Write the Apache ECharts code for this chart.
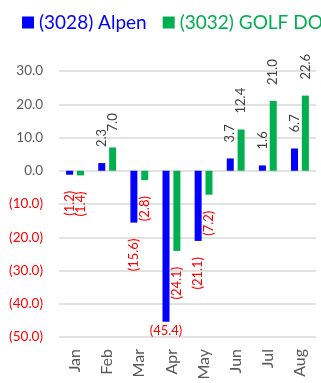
<!DOCTYPE html>
<html>
<head>
<meta charset="utf-8">
<script src="https://cdn.jsdelivr.net/npm/echarts@6/dist/echarts.min.js"></script>
<style>
  html, body { margin: 0; padding: 0; background: #fff; }
  #chart { width: 321px; height: 383px; }
</style>
</head>
<body>
<div id="chart"></div>
<script>
// Monthly change (%) by company
const months = ['Jan', 'Feb', 'Mar', 'Apr', 'May', 'Jun', 'Jul', 'Aug'];
const alpenName = '(3028) Alpen';
const golfDoName = '(3032) GOLF DO';
const alpenValues = [-1.2, 2.3, -15.6, -45.4, -21.1, 3.7, 1.6, 6.7];
const golfDoValues = [-1.4, 7.0, -2.8, -24.1, -7.2, 12.4, 21.0, 22.6];

const FONT = 'Lato, "Open Sans", sans-serif';
const NEG = '#ff0000';
const POS = '#404040';
const Y_MIN = -50;

function fmt(v) {
  return v < 0 ? '(' + Math.abs(v).toFixed(1) + ')' : v.toFixed(1);
}

// Labels run upright along the bar; a bar reaching past the axis floor
// gets a flat label centred under it instead.
function buildData(values) {
  return values.map(function (v) {
    const neg = v < 0;
    const flat = v < Y_MIN + 10;
    return {
      value: v,
      label: flat ? {
        position: 'bottom',
        rotate: 0,
        align: 'center',
        verticalAlign: 'top',
        distance: 3,
        color: NEG
      } : {
        position: neg ? 'bottom' : 'top',
        align: neg ? 'right' : 'left',
        color: neg ? NEG : POS
      }
    };
  });
}

function makeSeries(name, values, color) {
  return {
    name: name,
    type: 'bar',
    barWidth: 7,
    barGap: '55%',
    itemStyle: { color: color },
    label: {
      show: true,
      rotate: 90,
      verticalAlign: 'middle',
      distance: 16,
      fontFamily: FONT,
      fontSize: 13,
      formatter: function (p) { return fmt(p.value); }
    },
    data: buildData(values)
  };
}

const chart = echarts.init(document.getElementById('chart'), null, { renderer: 'canvas' });
chart.setOption({
  animation: false,
  legend: {
    left: 17,
    top: 8,
    width: 600,
    itemWidth: 12,
    itemHeight: 12,
    itemGap: 16,
    icon: 'rect',
    textStyle: { fontFamily: FONT, fontSize: 19 },
    data: [
      { name: alpenName, textStyle: { color: '#0000ff' } },
      { name: golfDoName, textStyle: { color: '#00b050' } }
    ]
  },
  grid: { left: 59, right: 5, top: 71, bottom: 46, containLabel: false },
  xAxis: {
    type: 'category',
    data: months,
    axisLine: { show: false, onZero: false },
    axisTick: { show: false },
    axisLabel: {
      rotate: 90,
      margin: 12,
      color: '#595959',
      fontFamily: FONT,
      fontSize: 16
    }
  },
  yAxis: {
    type: 'value',
    min: Y_MIN,
    max: 30,
    interval: 10,
    axisLine: { show: false },
    axisTick: { show: false },
    splitLine: { lineStyle: { color: '#d9d9d9', width: 1.5 } },
    axisLabel: {
      margin: 16,
      fontFamily: FONT,
      fontSize: 13.5,
      formatter: function (v) { return fmt(v); },
      color: function (v) { return Number(v) < 0 ? NEG : '#595959'; }
    }
  },
  series: [
    makeSeries(alpenName, alpenValues, '#0000ff'),
    makeSeries(golfDoName, golfDoValues, '#00b050')
  ]
});
</script>
</body>
</html>
